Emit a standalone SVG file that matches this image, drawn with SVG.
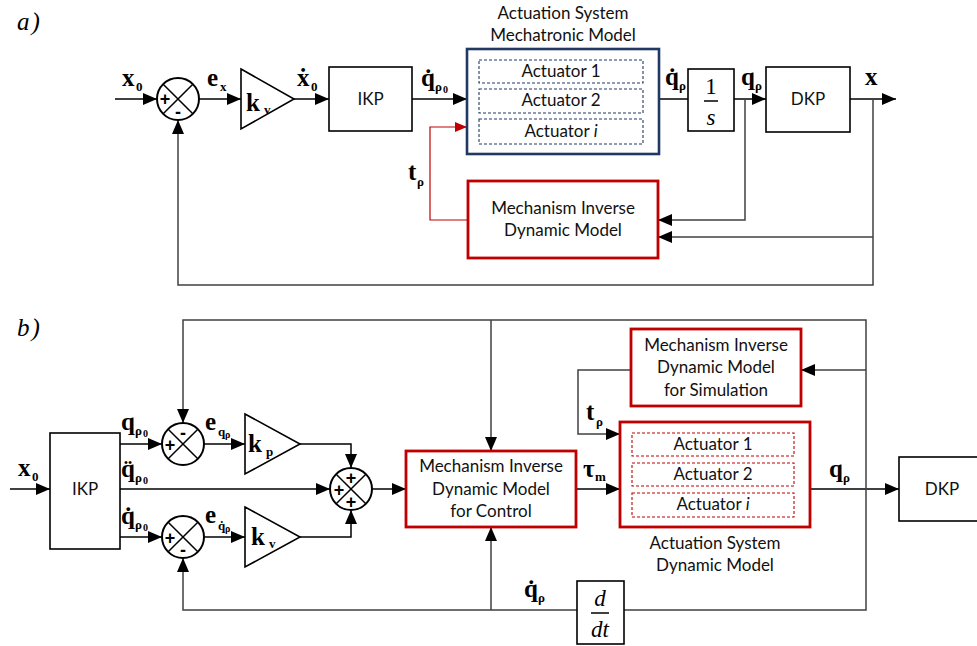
<svg xmlns="http://www.w3.org/2000/svg" width="977" height="646" viewBox="0 0 977 646">
<style>
.ln{fill:none;stroke:#000;stroke-width:1.5}
.fb{fill:none;stroke:#404040;stroke-width:1.5}
.rl{fill:none;stroke:#c00000;stroke-width:1.2}
.box{fill:#fff;stroke:#000;stroke-width:1.6}
.rbox{fill:#fff;stroke:#c00000;stroke-width:2.8}
.nbox{fill:#fff;stroke:#1f3864;stroke-width:2.6}
.ndash{fill:none;stroke:#1f3864;stroke-width:1.1;stroke-dasharray:3 2}
.rdash{fill:none;stroke:#c00000;stroke-width:1.1;stroke-dasharray:3 2}
.sum{fill:#fff;stroke:#000;stroke-width:2}
.tri{fill:#fff;stroke:#000;stroke-width:1.6}
.t{font-family:Lato,"Liberation Sans",sans-serif;font-size:17px;fill:#111;text-anchor:middle}
.m{font-family:"Liberation Serif",serif;font-weight:bold;font-size:25px;fill:#000}
.s{font-family:"Liberation Serif",serif;font-weight:bold;font-size:13px;fill:#000}
.ss{font-family:"Liberation Serif",serif;font-weight:bold;font-size:10px;fill:#000}
.pm{font-family:"Liberation Sans",sans-serif;font-weight:bold;font-size:18px;fill:#000;text-anchor:middle}
.it{font-family:"Liberation Serif",serif;font-style:italic;font-size:25px;fill:#000}
.fr{font-family:"Liberation Serif",serif;font-size:23px;fill:#000;text-anchor:middle}
</style>
<defs>
<marker id="ah" markerWidth="14" markerHeight="12" refX="14" refY="6" orient="auto" markerUnits="userSpaceOnUse"><path d="M0,0 L14,6 L0,12 z" fill="#000"/></marker>
<marker id="ahr" markerWidth="12" markerHeight="10" refX="12" refY="5" orient="auto" markerUnits="userSpaceOnUse"><path d="M0,0 L12,5 L0,10 z" fill="#c00000"/></marker>
</defs>

<!-- ===== Part a ===== -->
<text class="it" x="17" y="30">a<tspan dx="2">)</tspan></text>

<g id="connectors-a">
<path class="ln" d="M115,99 H157" marker-end="url(#ah)"/>
<path class="ln" d="M199,99 H241" marker-end="url(#ah)"/>
<path class="ln" d="M294,99 H329" marker-end="url(#ah)"/>
<path class="ln" d="M412,99 H467" marker-end="url(#ah)"/>
<path class="ln" d="M659,99 H688"/>
<path class="ln" d="M734,99 H766" marker-end="url(#ah)"/>
<path class="ln" d="M850,99 H896" marker-end="url(#ah)"/>
<path class="fb" d="M745,99 V220 H658" marker-end="url(#ah)"/>
<path class="fb" d="M873,99 V285 H178 V120" marker-end="url(#ah)"/>
<path class="fb" d="M873,237 H658" marker-end="url(#ah)"/>
<path class="rl" d="M468,220 H430 V127 H467" marker-end="url(#ahr)"/>
</g>

<g id="sum-a">
<circle class="sum" cx="178" cy="99" r="21"/>
<path class="ln" stroke-width="1.8" d="M163.2,84.2 L192.8,113.8 M192.8,84.2 L163.2,113.8"/>
<text class="pm" x="165" y="105">+</text>
<text class="pm" x="178" y="118">-</text>
</g>

<g id="kv-a">
<path class="tri" d="M241,69 L294,99 L241,129 z"/>
<text class="m" x="246" y="111" font-size="30">k</text><text class="s" x="264" y="114">v</text>
</g>

<g id="ikp-a">
<rect class="box" x="329" y="67" width="83" height="64"/>
<text class="t" x="370.5" y="105">IKP</text>
</g>

<g id="actuation-a">
<text class="t" x="563" y="19">Actuation System</text>
<text class="t" x="563" y="41">Mechatronic Model</text>
<rect class="nbox" x="467" y="49" width="192" height="105"/>
<rect class="ndash" x="479" y="60" width="164" height="23"/>
<rect class="ndash" x="479" y="89" width="164" height="24"/>
<rect class="ndash" x="479" y="119" width="164" height="25"/>
<text class="t" x="561" y="77">Actuator 1</text>
<text class="t" x="561" y="106">Actuator 2</text>
<text class="t" x="561" y="137">Actuator <tspan font-style="italic">i</tspan></text>
</g>

<g id="integrator-a">
<rect class="box" x="688" y="69" width="46" height="62"/>
<text class="fr" x="711" y="94">1</text>
<path class="ln" stroke-width="1.2" d="M704,101 H718"/>
<text class="fr" x="711" y="125" font-style="italic">s</text>
</g>

<g id="dkp-a">
<rect class="box" x="766" y="67" width="84" height="65"/>
<text class="t" x="808" y="105">DKP</text>
</g>

<g id="midm-a">
<rect class="rbox" x="468" y="181" width="190" height="77"/>
<text class="t" x="563" y="214">Mechanism Inverse</text>
<text class="t" x="563" y="236">Dynamic Model</text>
</g>

<g id="labels-a">
<text class="m" x="122" y="86">x</text><text class="s" x="136" y="91">0</text>
<text class="m" x="207" y="86">e</text><text class="s" x="220" y="91">x</text>
<text class="m" x="297" y="86">ẋ</text><text class="s" x="311" y="91">0</text>
<text class="m" x="421" y="86">q̇</text><text class="s" x="435" y="91">ρ</text><text class="ss" x="443" y="93">0</text>
<text class="m" x="665" y="85">q̇</text><text class="s" x="679" y="90">ρ</text>
<text class="m" x="741" y="85">q</text><text class="s" x="755" y="90">ρ</text>
<text class="m" x="865" y="85">x</text>
<text class="m" x="408" y="180">t</text><text class="s" x="417" y="186">ρ</text>
</g>

<!-- ===== Part b ===== -->
<text class="it" x="17" y="336">b<tspan dx="2">)</tspan></text>

<g id="connectors-b">
<path class="ln" d="M10,489 H50" marker-end="url(#ah)"/>
<path class="ln" d="M120,444 H162" marker-end="url(#ah)"/>
<path class="ln" d="M120,489 H330" marker-end="url(#ah)"/>
<path class="ln" d="M120,537 H162" marker-end="url(#ah)"/>
<path class="ln" d="M204,444 H245" marker-end="url(#ah)"/>
<path class="ln" d="M204,537 H245" marker-end="url(#ah)"/>
<path class="ln" d="M300,444 H351 V468" marker-end="url(#ah)"/>
<path class="ln" d="M300,537 H351 V510" marker-end="url(#ah)"/>
<path class="ln" d="M372,489 H406" marker-end="url(#ah)"/>
<path class="ln" d="M576,489 H620" marker-end="url(#ah)"/>
<path class="ln" d="M810,489 H899" marker-end="url(#ah)"/>
<path class="fb" d="M866,489 V610 H624"/>
<path class="fb" d="M577,610 H183 V558" marker-end="url(#ah)"/>
<path class="fb" d="M491,610 V527" marker-end="url(#ah)"/>
<path class="fb" d="M866,489 V320 H183 V423" marker-end="url(#ah)"/>
<path class="fb" d="M491,320 V451" marker-end="url(#ah)"/>
<path class="fb" d="M866,370 H801" marker-end="url(#ah)"/>
<path class="fb" d="M631,370 H578 V434 H620" marker-end="url(#ah)"/>
</g>

<g id="ikp-b">
<rect class="box" x="50" y="433" width="70" height="116"/>
<text class="t" x="85" y="495">IKP</text>
</g>

<g id="sum1-b">
<circle class="sum" cx="183" cy="444" r="21"/>
<path class="ln" stroke-width="1.8" d="M168.2,429.2 L197.8,458.8 M197.8,429.2 L168.2,458.8"/>
<text class="pm" x="183" y="439">-</text>
<text class="pm" x="170" y="451">+</text>
</g>

<g id="sum2-b">
<circle class="sum" cx="183" cy="537" r="21"/>
<path class="ln" stroke-width="1.8" d="M168.2,522.2 L197.8,551.8 M197.8,522.2 L168.2,551.8"/>
<text class="pm" x="170" y="544">+</text>
<text class="pm" x="183" y="556">-</text>
</g>

<g id="sum3-b">
<circle class="sum" cx="351" cy="489" r="21"/>
<path class="ln" stroke-width="1.8" d="M336.2,474.2 L365.8,503.8 M365.8,474.2 L336.2,503.8"/>
<text class="pm" x="351" y="484">+</text>
<text class="pm" x="339" y="496">+</text>
<text class="pm" x="351" y="508">+</text>
</g>

<g id="kp-b">
<path class="tri" d="M245,414 L300,444 L245,474 z"/>
<text class="m" x="248" y="452" font-size="30">k</text><text class="s" x="266" y="456">p</text>
</g>

<g id="kv-b">
<path class="tri" d="M245,507 L300,537 L245,567 z"/>
<text class="m" x="251" y="545" font-size="30">k</text><text class="s" x="269" y="548">v</text>
</g>

<g id="midm-control-b">
<rect class="rbox" x="406" y="451" width="170" height="76"/>
<text class="t" x="491" y="472">Mechanism Inverse</text>
<text class="t" x="491" y="495">Dynamic Model</text>
<text class="t" x="491" y="517">for Control</text>
</g>

<g id="midm-sim-b">
<rect class="rbox" x="631" y="329" width="170" height="77"/>
<text class="t" x="716" y="351">Mechanism Inverse</text>
<text class="t" x="716" y="373">Dynamic Model</text>
<text class="t" x="716" y="396">for Simulation</text>
</g>

<g id="actuation-b">
<rect class="rbox" x="620" y="422" width="190" height="105"/>
<rect class="rdash" x="632" y="433" width="162" height="23"/>
<rect class="rdash" x="632" y="463" width="162" height="23"/>
<rect class="rdash" x="632" y="493" width="162" height="24"/>
<text class="t" x="713" y="450">Actuator 1</text>
<text class="t" x="713" y="480">Actuator 2</text>
<text class="t" x="713" y="510">Actuator <tspan font-style="italic">i</tspan></text>
<text class="t" x="715" y="549">Actuation System</text>
<text class="t" x="715" y="571">Dynamic Model</text>
</g>

<g id="dkp-b">
<rect class="box" x="899" y="457" width="85" height="64"/>
<text class="t" x="942" y="495">DKP</text>
</g>

<g id="derivative-b">
<rect class="box" x="577" y="581" width="47" height="63"/>
<text class="fr" x="600" y="606" font-style="italic">d</text>
<path class="ln" stroke-width="1.2" d="M591,613 H609"/>
<text class="fr" x="600" y="637" font-style="italic">dt</text>
</g>

<g id="labels-b">
<text class="m" x="18" y="476">x</text><text class="s" x="32" y="481">0</text>
<text class="m" x="121" y="430">q</text><text class="s" x="135" y="435">ρ</text><text class="ss" x="143" y="437">0</text>
<text class="m" x="121" y="477">q̈</text><text class="s" x="135" y="482">ρ</text><text class="ss" x="143" y="484">0</text>
<text class="m" x="121" y="524">q̇</text><text class="s" x="135" y="529">ρ</text><text class="ss" x="143" y="531">0</text>
<text class="m" x="205" y="430">e</text><text class="s" x="218" y="436">q</text><text class="ss" x="225" y="438">ρ</text>
<text class="m" x="205" y="523">e</text><text class="s" x="218" y="530">q̇</text><text class="ss" x="225" y="532">ρ</text>
<text class="m" x="583" y="477">τ</text><text class="s" x="595" y="481">m</text>
<text class="m" x="586" y="420">t</text><text class="s" x="596" y="426">ρ</text>
<text class="m" x="829" y="477">q</text><text class="s" x="843" y="482">ρ</text>
<text class="m" x="524" y="597">q̇</text><text class="s" x="538" y="602">ρ</text>
</g>
</svg>
